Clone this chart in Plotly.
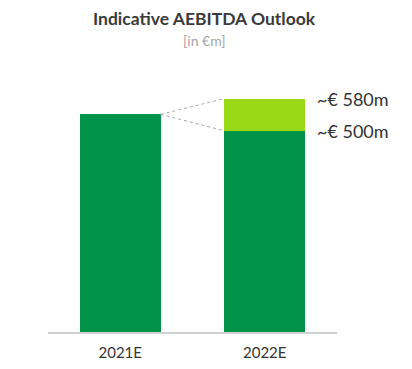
import plotly.graph_objects as go

categories = ["2021E", "2022E"]
base_values = [541, 500]
uplift_values = [0, 80]
label_texts = ["~€ 580m", "~€ 500m"]

DARK = "#00944a"
LIGHT = "#9ad915"
BAR_W = 0.56

xs = list(range(len(categories)))
fig = go.Figure()
fig.add_trace(go.Bar(x=xs, y=base_values, marker_color=DARK, width=BAR_W,
                     marker_line_width=0, hoverinfo="skip"))
fig.add_trace(go.Bar(x=xs, y=uplift_values, marker_color=LIGHT, width=BAR_W,
                     marker_line_width=0, hoverinfo="skip"))

total_2022 = base_values[1] + uplift_values[1]
# connector dashed lines
for yend in [total_2022, base_values[1]]:
    fig.add_shape(type="line", xref="x", yref="y",
                  x0=xs[0] + BAR_W / 2, y0=base_values[0],
                  x1=xs[1] - BAR_W / 2, y1=yend,
                  line=dict(color="#a8a8a8", width=1, dash="dot"))

for txt, yv in zip(label_texts, [total_2022, base_values[1]]):
    fig.add_annotation(x=xs[1] + BAR_W / 2, y=yv, xref="x", yref="y",
                       text=txt, showarrow=False, xanchor="left", yanchor="middle",
                       xshift=10, font=dict(size=18, color="#333333"))

fig.add_annotation(text="<b>Indicative AEBITDA Outlook</b>", xref="paper", yref="paper",
                   x=0.54, y=1.152, xanchor="center", yanchor="middle", showarrow=False,
                   borderpad=0, font=dict(size=17.5, color="#3a3a3a"))
fig.add_annotation(text="[in €m]", xref="paper", yref="paper", x=0.54, y=1.07,
                   xanchor="center", yanchor="middle", showarrow=False,
                   font=dict(size=14, color="#a6a6a6"))

fig.update_layout(
    width=396, height=353,
    barmode="stack",
    showlegend=False,
    plot_bgcolor="white", paper_bgcolor="white",
    margin=dict(l=40, r=67, t=52, b=29),
    font=dict(family="Lato, 'Noto Sans', sans-serif", color="#333333"),
    bargap=0,
)
fig.update_xaxes(range=[-0.5, 1.5], tickvals=xs, ticktext=categories,
                 showline=True, linecolor="#d0d0d0", linewidth=1.5,
                 showgrid=False, zeroline=False, ticks="", ticklabelstandoff=6,
                 automargin=False,
                 tickfont=dict(size=15, color="#333333"))
fig.update_yaxes(range=[0, 676], visible=False, showgrid=False, zeroline=False,
                 automargin=False)

fig.write_html("out.html")
